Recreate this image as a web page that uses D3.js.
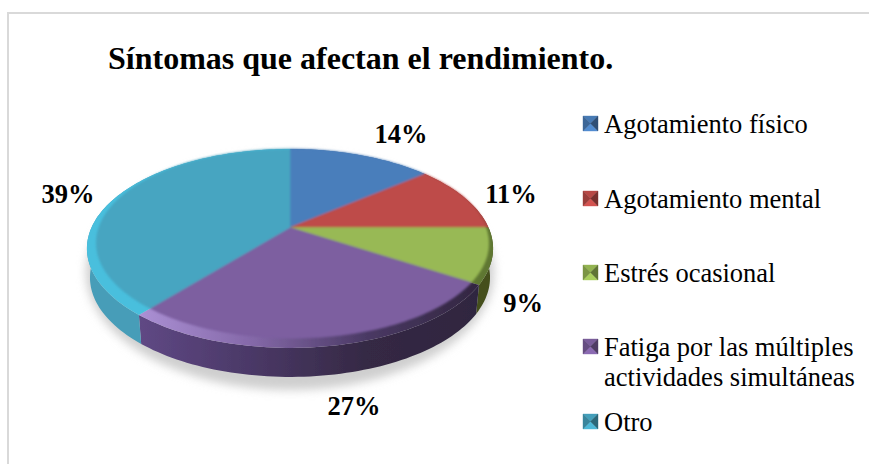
<!DOCTYPE html>
<html>
<head>
<meta charset="utf-8">
<script src="https://cdn.jsdelivr.net/npm/d3@7/dist/d3.min.js"></script>
<style>
  html, body { margin: 0; padding: 0; background: #fff; }
  svg { display: block; }
  text { font-family: "Liberation Serif", serif; fill: #000; }
</style>
</head>
<body>
<svg width="869" height="464"></svg>
<script>
var titleText = "Síntomas que afectan el rendimiento.";
var categories = ["Agotamiento físico", "Agotamiento mental", "Estrés ocasional", "Fatiga por las múltiples|actividades simultáneas", "Otro"];
var values = [14, 11, 9, 27, 39];
var colors = ["#4a7ebb", "#be4b48", "#98b954", "#7d5fa0", "#46a5c1"];

// rim and wall shading per slice, left to right
var rimStops = [
  ["#4a7ebb", "#4a7ebb"],
  ["#be4b48", "#a84643"],
  ["#98b954", "#5f7730"],
  ["#ab90d4", "#8468a8", "#4a3964", "#322640"],
  ["#48bfdd", "#48bfdd"]
];
var wallStops = [
  ["#3a6090", "#3a6090"],
  ["#8a3533", "#8a3533"],
  ["#55681f", "#44501e"],
  ["#5f4884", "#4a3866", "#352944", "#2f2540"],
  ["#469db8", "#3b8ba6"]
];
var labelPos = [[401, 143], [511, 203], [523, 312], [354, 415], [68, 203]];
var legendY = [131, 206, 280, 354, 429];

var svg = d3.select("svg"),
    defs = svg.append("defs");

// tilted disc: unit circle pushed through a simple perspective
var cx = 290, cy = 227.5, ax = 198.5, by = 95, k = 0.211, depth = 29;

function project(u, v) {
  var w = 1 - k * v;
  return [cx + ax * u / w, cy + by * v / w];
}

var pie = d3.pie().sort(null)(values);
var color = d3.scaleOrdinal().domain(categories).range(colors);

function arcPoints(d, fn) {
  var n = Math.max(2, Math.round((d.endAngle - d.startAngle) * 40));
  return d3.range(n + 1).map(function(i) {
    var a = d.startAngle + (d.endAngle - d.startAngle) * i / n;
    return fn(Math.sin(a), -Math.cos(a));
  });
}

var line = d3.line();
var outer = function(u, v) { return project(u, v); };
// flat face: same rays from the apex, bevel is widest at the front left
var inner = function(u, v) {
  var r = Math.min(1, 0.975 + 0.012 * u - 0.04 * v);
  return project(u * r, v * r);
};
var lower = function(u, v) {
  var p = project(u, v);
  return [cx + (p[0] - cx) * 0.985, p[1] + depth];
};

function gradient(id, stops) {
  var g = defs.append("linearGradient").attr("id", id)
      .attr("gradientUnits", "userSpaceOnUse")
      .attr("x1", 140).attr("x2", 480).attr("y1", 0).attr("y2", 0);
  stops.forEach(function(s, i) {
    g.append("stop").attr("offset", i / (stops.length - 1)).attr("stop-color", s);
  });
}
rimStops.forEach(function(s, i) { gradient("rim" + i, s); });
wallStops.forEach(function(s, i) { gradient("wall" + i, s); });

function blur(id, amount) {
  defs.append("filter").attr("id", id)
      .attr("x", "-10%").attr("y", "-10%").attr("width", "120%").attr("height", "120%")
    .append("feGaussianBlur").attr("stdDeviation", amount);
}
blur("soft", 5);
blur("edge", 0.9);
blur("edgeThin", 0.5);

// frame
svg.append("path")
    .attr("d", "M8,464V13H869")
    .attr("fill", "none")
    .attr("stroke", "#d9d9d9")
    .attr("stroke-width", 2);

svg.append("text")
    .attr("x", 108).attr("y", 69)
    .attr("font-size", 32).attr("font-weight", "bold")
    .text(titleText);

// shadow
svg.append("ellipse")
    .attr("cx", 290).attr("cy", 272).attr("rx", 204).attr("ry", 118)
    .attr("fill", "#cfcfcf")
    .attr("filter", "url(#soft)");

// walls
svg.append("g").attr("filter", "url(#edgeThin)").selectAll("path")
    .data(pie)
    .enter().append("path")
      .attr("d", function(d) {
        var top = arcPoints(d, outer), low = arcPoints(d, lower).reverse();
        return line(top.concat(low)) + "Z";
      })
      .attr("fill", function(d, i) { return "url(#wall" + i + ")"; });

// rim
svg.append("g").attr("filter", "url(#edgeThin)").selectAll("path")
    .data(pie)
    .enter().append("path")
      .attr("d", function(d) {
        return line([[cx, cy]].concat(arcPoints(d, outer))) + "Z";
      })
      .attr("fill", function(d, i) { return "url(#rim" + i + ")"; });

// flat top
svg.append("g").attr("filter", "url(#edge)").selectAll("path")
    .data(pie)
    .enter().append("path")
      .attr("d", function(d) {
        return line([[cx, cy]].concat(arcPoints(d, inner))) + "Z";
      })
      .attr("fill", function(d, i) { return color(categories[i]); })
      .attr("stroke", function(d, i) { return color(categories[i]); })
      .attr("stroke-width", 0.5);

// value labels
svg.append("g").selectAll("text")
    .data(values)
    .enter().append("text")
      .attr("x", function(d, i) { return labelPos[i][0]; })
      .attr("y", function(d, i) { return labelPos[i][1]; })
      .attr("text-anchor", "middle")
      .attr("font-size", 26.5)
      .attr("font-weight", "bold")
      .text(function(d) { return d + "%"; });

// legend
var legend = svg.append("g").selectAll("g")
    .data(categories)
    .enter().append("g")
      .attr("transform", function(d, i) { return "translate(583," + legendY[i] + ")"; });

var s = 15, m = s / 2;
var facets = [
  { pts: [[0, -s], [s, -s], [m, -m]], shade: function(c) { return d3.color(c).darker(0.1); } },
  { pts: [[0, 0], [s, 0], [m, -m]], shade: function(c) { return d3.color(c).brighter(0.3); } },
  { pts: [[0, -s], [0, 0], [m, -m]], shade: function(c) { return d3.color(c).darker(0.6); } },
  { pts: [[s, -s], [s, 0], [m, -m]], shade: function(c) { return d3.color(c).darker(1.3); } }
];
facets.forEach(function(f) {
  legend.append("path")
      .attr("d", line(f.pts) + "Z")
      .attr("fill", function(d) { return f.shade(color(d)); })
      .attr("stroke", function(d) { return f.shade(color(d)); })
      .attr("stroke-width", 0.4);
});

legend.each(function(d) {
  var g = d3.select(this);
  d.split("|").forEach(function(t, j) {
    g.append("text")
        .attr("x", 21).attr("y", 1.5 + j * 30)
        .attr("font-size", 26.5)
        .text(t);
  });
});
</script>
</body>
</html>
